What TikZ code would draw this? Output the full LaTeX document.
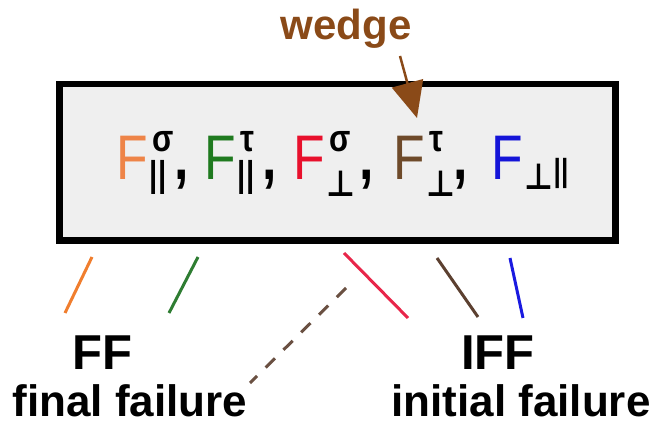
\documentclass[tikz,border=0pt]{standalone}
\usepackage{fontspec}
\setmainfont{Liberation Sans}
\newfontfamily\termfont[FakeStretch=0.82]{Liberation Sans}
\newfontfamily\tackfont[FakeStretch=0.88]{DejaVu Sans}
\usepackage{xcolor}
\definecolor{boxgray}{HTML}{EFEFEF}
\definecolor{forange}{HTML}{EE8448}
\definecolor{fgreen}{HTML}{1F7A1F}
\definecolor{fred}{HTML}{E8102C}
\definecolor{fbrown}{HTML}{6E4A2A}
\definecolor{fblue}{HTML}{1414D8}
\definecolor{lineorange}{HTML}{F07E2E}
\definecolor{linegreen}{HTML}{2E7D32}
\definecolor{linered}{HTML}{E8264A}
\definecolor{linebrown}{HTML}{5C4030}
\definecolor{lineblue}{HTML}{1A1AE0}
\definecolor{wedgebrown}{HTML}{8A4A18}
\definecolor{dashbrown}{HTML}{6A5042}
\usetikzlibrary{arrows.meta}

% F with black superscript and subscript: sup, sub, sub drop, script width
\newcommand{\fterm}[4]{%
  {\termfont F}\kern2pt\makebox[#4][l]{\color{black}\bfseries
    \rlap{\kern3pt\raisebox{28pt}{\fontsize{38}{38}\selectfont #1}}%
    \raisebox{-#3}{\fontsize{36}{36}\selectfont #2}}}
\newcommand{\fsep}{{\color{black}\bfseries,}}

\tikzset{
  formbox/.style={
    rectangle, draw=black, line width=6.5pt, fill=boxgray,
    minimum width=556pt, minimum height=156.5pt, inner sep=0pt
  },
  term/.style={
    anchor=base west, inner sep=0pt,
    font=\termfont\fontsize{63}{70}\selectfont
  },
  bigtag/.style={anchor=base, inner sep=0pt, font=\bfseries\fontsize{49}{52}\selectfont},
  smalltag/.style={anchor=base, inner sep=0pt, font=\bfseries\fontsize{44}{46}\selectfont},
  failline/.style={line width=3pt},
  wedgearrow/.style={-{Triangle[length=36pt,width=32pt]}, line width=2.5pt, draw=wedgebrown}
}

\begin{document}
\begin{tikzpicture}[x=1pt,y=-1pt]
  \useasboundingbox (0,0) rectangle (654,427);

  % Failure criteria box
  \node[formbox] (box) at (337.5,162.25) {};

  \node[term, text=forange] (fsigpar) at (116,180) {\fterm{σ}{||}{7pt}{25pt}\fsep};
  \node[term, text=fgreen] (ftaupar) at (204,180) {\fterm{τ}{||}{7pt}{25pt}\fsep};
  \node[term, text=fred] (fsigperp) at (293,180) {\fterm{σ}{\tackfont ⊥}{17pt}{33pt}\fsep};
  \node[term, text=fbrown] (ftauperp) at (393,180) {\fterm{τ}{\tackfont ⊥}{17pt}{27pt}\fsep};
  \node[term, text=fblue] (fperppar) at (491,180)
  {\fterm{}{{\tackfont ⊥}\raisebox{8pt}{\fontsize{32}{32}\selectfont ||}}{10pt}{0pt}};

  % Wedge label
  \node[anchor=base, inner sep=0pt, text=wedgebrown, font=\bfseries\fontsize{42}{44}\selectfont]
    (wedge) at (346,40) {wedge};
  \coordinate (wfrom) at (400,56);
  \coordinate (wtip) at (417,118);
  \draw[wedgearrow] (wfrom) -- (wtip);

  % Strokes under the box
  \coordinate (orangetop) at (92,257);
  \coordinate (orangebot) at (65,313);
  \coordinate (greentop) at (198,257);
  \coordinate (greenbot) at (169,313);
  \coordinate (redtop) at (344,253);
  \coordinate (redbot) at (408,318);
  \coordinate (dashtop) at (346,288);
  \coordinate (dashbot) at (250,383);
  \coordinate (browntop) at (437,258);
  \coordinate (brownbot) at (478,317);
  \coordinate (bluetop) at (510,258);
  \coordinate (bluebot) at (523,318);

  \draw[failline, lineorange] (orangetop) -- (orangebot);
  \draw[failline, linegreen] (greentop) -- (greenbot);
  \draw[failline, linered] (redtop) -- (redbot);
  \draw[failline, dashbrown, dash pattern=on 13pt off 12pt] (dashtop) -- (dashbot);
  \draw[failline, linebrown] (browntop) -- (brownbot);
  \draw[failline, lineblue] (bluetop) -- (bluebot);

  % Failure modes
  \node[bigtag] (ff) at (102,370) {FF};
  \node[smalltag] (ffname) at (130,417) {final failure};
  \node[bigtag] (iff) at (498,370) {IFF};
  \node[smalltag] (iffname) at (521,417) {initial failure};
\end{tikzpicture}
\end{document}
